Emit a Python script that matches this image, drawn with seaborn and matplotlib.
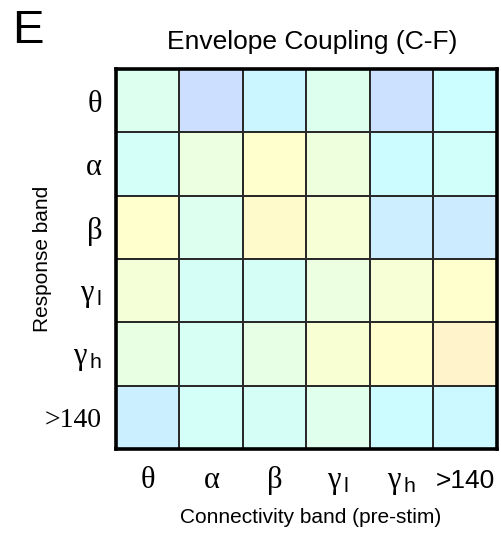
import numpy as np
import pandas as pd
import matplotlib
matplotlib.use("Agg")
import matplotlib.pyplot as plt
import seaborn as sns
from matplotlib.colors import LinearSegmentedColormap, ListedColormap

# Frequency bands (columns: connectivity band, rows: response band)
connectivity_bands = ["theta", "alpha", "beta", "gamma_l", "gamma_h", ">140"]
response_bands = ["theta", "alpha", "beta", "gamma_l", "gamma_h", ">140"]

# Coupling strength per response band (one value per connectivity band), 0..1 scale
row_theta = [0.45, 0.22, 0.33, 0.46, 0.23, 0.37]
row_alpha = [0.41, 0.53, 0.62, 0.54, 0.36, 0.40]
row_beta = [0.62, 0.45, 0.65, 0.58, 0.29, 0.28]
row_gamma_l = [0.57, 0.42, 0.42, 0.53, 0.58, 0.62]
row_gamma_h = [0.51, 0.43, 0.50, 0.59, 0.63, 0.68]
row_hfa = [0.30, 0.41, 0.42, 0.47, 0.36, 0.34]

x_ticklabels = [r"$\mathrm{\theta}$", r"$\mathrm{\alpha}$", r"$\mathrm{\beta}$",
                r"$\mathrm{\gamma}_{\,\mathsf{l}}$", r"$\mathrm{\gamma}_{\,\mathsf{h}}$", ">140"]
y_ticklabels = [r"$\mathrm{\theta}$", r"$\mathrm{\alpha}$", r"$\mathrm{\beta}$",
                r"$\mathrm{\gamma}_{\,\mathsf{l}}$", r"$\mathrm{\gamma}_{\,\mathsf{h}}$", ">140"]

data = pd.DataFrame(
    [row_theta, row_alpha, row_beta, row_gamma_l, row_gamma_h, row_hfa],
    index=response_bands, columns=connectivity_bands,
)

sns.set_style("white")
plt.rcParams["font.family"] = ["Liberation Sans", "DejaVu Sans"]
plt.rcParams["text.color"] = "black"
plt.rcParams["axes.labelcolor"] = "black"
plt.rcParams["xtick.color"] = "black"
plt.rcParams["ytick.color"] = "black"
plt.rcParams["mathtext.fontset"] = "custom"
plt.rcParams["mathtext.rm"] = "Liberation Serif"
plt.rcParams["mathtext.it"] = "Liberation Serif:italic"
plt.rcParams["mathtext.bf"] = "Liberation Serif:bold"
plt.rcParams["mathtext.sf"] = "Liberation Sans"

# Washed-out jet colormap (jet blended with white)
jet_pts = [(0.0, (0, 0, 0.5)), (0.125, (0, 0, 1)), (0.375, (0, 1, 1)),
           (0.625, (1, 1, 0)), (0.875, (1, 0, 0)), (1.0, (0.5, 0, 0))]
jet = LinearSegmentedColormap.from_list("jet_classic", jet_pts, N=256)
rgb = jet(np.linspace(0, 1, 256))[:, :3]
pastel = ListedColormap(0.8 + 0.2 * rgb)

fig = plt.figure(figsize=(5.01, 5.37), dpi=100)
ax = fig.add_axes([0.2315, 0.1639, 0.760, 0.7076])

sns.heatmap(data, ax=ax, cmap=pastel, vmin=0, vmax=1, cbar=False,
            linewidths=1.3, linecolor="#2a2a2a")

for s in ax.spines.values():
    s.set_visible(True)
    s.set_linewidth(2.6)
    s.set_color("black")

ax.set_xticklabels(x_ticklabels, rotation=0, fontsize=22)
ax.set_yticklabels(y_ticklabels, rotation=0, fontsize=22, family="Liberation Serif")
ax.tick_params(axis="both", length=0)
ax.tick_params(axis="x", pad=28)
ax.tick_params(axis="y", pad=10)
for t in ax.get_xticklabels():
    t.set_va("baseline")
ax.get_xticklabels()[-1].set_family("Liberation Sans")
ax.get_xticklabels()[-1].set_fontsize(19)
ax.get_yticklabels()[-1].set_fontsize(20)
for t in ax.get_yticklabels():
    t.set_va("center_baseline")

ax.set_xlabel("Connectivity band (pre-stim)", fontsize=15)
ax.set_ylabel("Response band", fontsize=15)
ax.xaxis.set_label_coords(0.51, -0.18)
ax.xaxis.label.set_va("center")
ax.yaxis.set_label_coords(-0.194, 0.5)
ax.yaxis.label.set_va("center")

fig.text(0.623, 1 - 42 / 537, "Envelope Coupling (C-F)", ha="center", va="center", fontsize=19)
fig.text(12 / 501, 1 - 31 / 537, "E", ha="left", va="center", fontsize=34)

fig.savefig("out.png", dpi=100)
